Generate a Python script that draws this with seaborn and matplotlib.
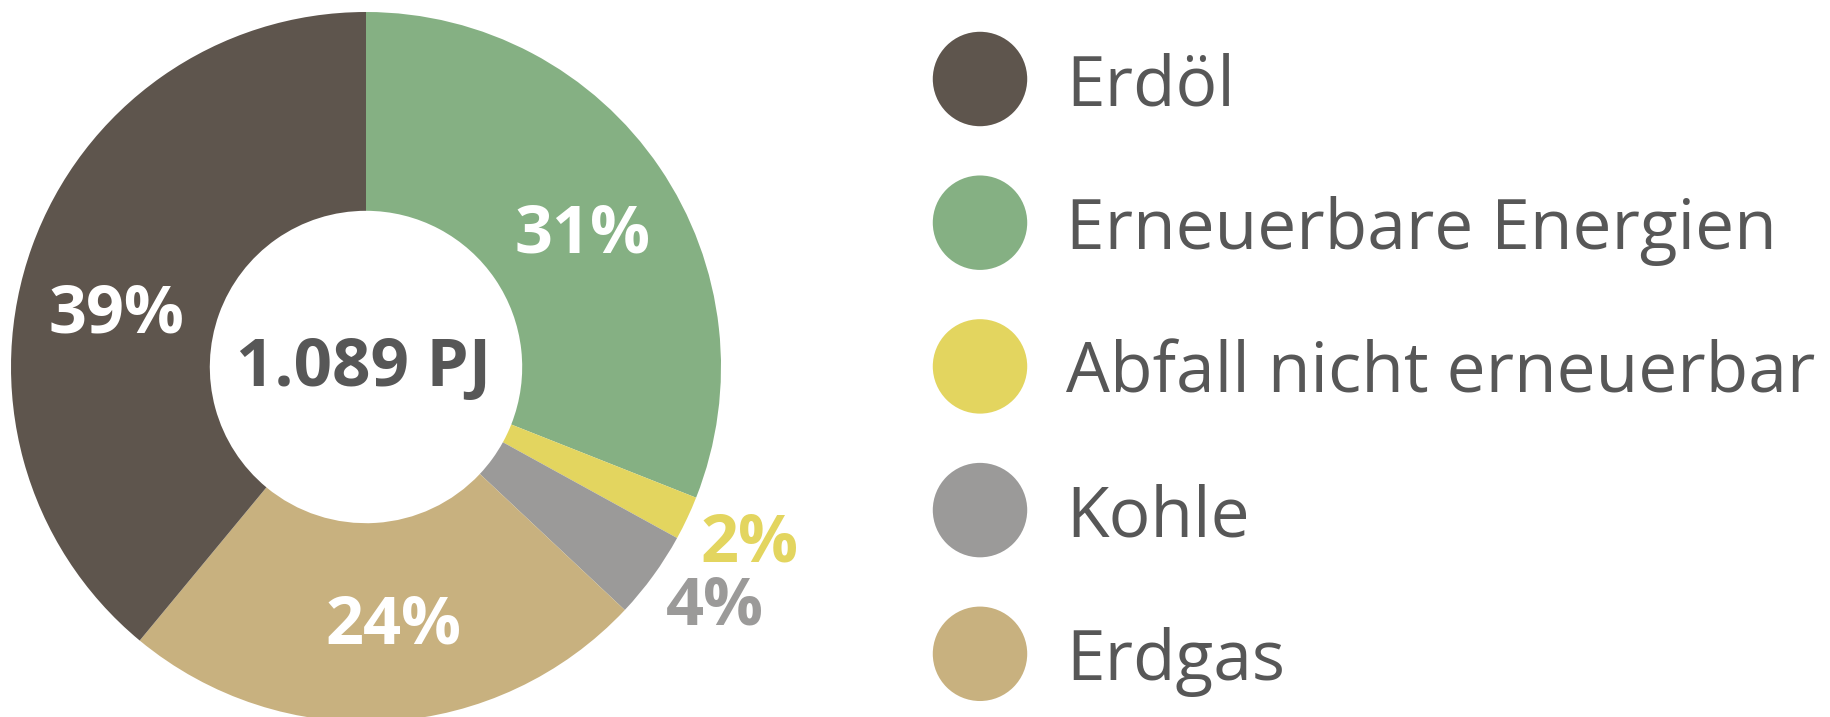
import numpy as np
import seaborn as sns
import matplotlib.pyplot as plt

# Primärenergieverbrauch nach Energieträger
labels = ["Erneuerbare Energien", "Abfall nicht erneuerbar", "Kohle", "Erdgas", "Erdöl"]
shares = [31, 2, 4, 24, 39]
colors = ["#85b083", "#e3d55f", "#9b9a99", "#c8b17f", "#5e554d"]
legend_order = ["Erdöl", "Erneuerbare Energien", "Abfall nicht erneuerbar", "Kohle", "Erdgas"]
total_label = "1.089 PJ"

sns.set_theme(style="white")
plt.rcParams["font.family"] = ["Open Sans", "DejaVu Sans"]

W, H = 1831, 717
fig = plt.figure(figsize=(W / 100, H / 100), dpi=100)
fig.patch.set_facecolor("white")

# donut axes, square in pixels
cx, cy, r = 366, 367, 355
ax = fig.add_axes([(cx - r) / W, (H - cy - r) / H, 2 * r / W, 2 * r / H])
wedges, _ = ax.pie(shares, colors=colors, startangle=90, counterclock=False,
                   radius=1, wedgeprops=dict(width=0.56, linewidth=0))
ax.set_xlim(-1, 1)
ax.set_ylim(-1, 1)
ax.set_aspect("equal")
ax.axis("off")

text_grey = "#575757"
# small angular nudges (degrees, counter-clockwise) so labels sit like the original
nudge = {31: -2, 2: 1, 4: 2, 24: 2.5, 39: 7}
for w, v, c in zip(wedges, shares, colors):
    mid = np.deg2rad((w.theta1 + w.theta2) / 2 + nudge.get(v, 0))
    if v >= 10:
        rr, tc = 0.72, "white"
    else:
        rr, tc = 1.185, c
    ax.text(rr * np.cos(mid), rr * np.sin(mid) + 0.01, f"{v}%", ha="center",
            va="center_baseline", fontsize=48, fontweight="bold", color=tc,
            clip_on=False)

ax.text(-0.006, 0.017, total_label, ha="center", va="center_baseline", fontsize=48.5,
        fontweight="bold", color=text_grey)

# legend on the right
lax = fig.add_axes([0, 0, 1, 1])
lax.set_xlim(0, W)
lax.set_ylim(H, 0)
lax.axis("off")
col = dict(zip(labels, colors))
ys = 79 + 143.7 * np.arange(len(legend_order))
lax.scatter([980] * len(legend_order), ys, s=68 ** 2,
            c=[col[n] for n in legend_order], linewidths=0)
for y, n in zip(ys, legend_order):
    lax.text(1066, y, n, ha="left", va="center_baseline", fontsize=50, color=text_grey)

plt.savefig("out.png", dpi=100)
